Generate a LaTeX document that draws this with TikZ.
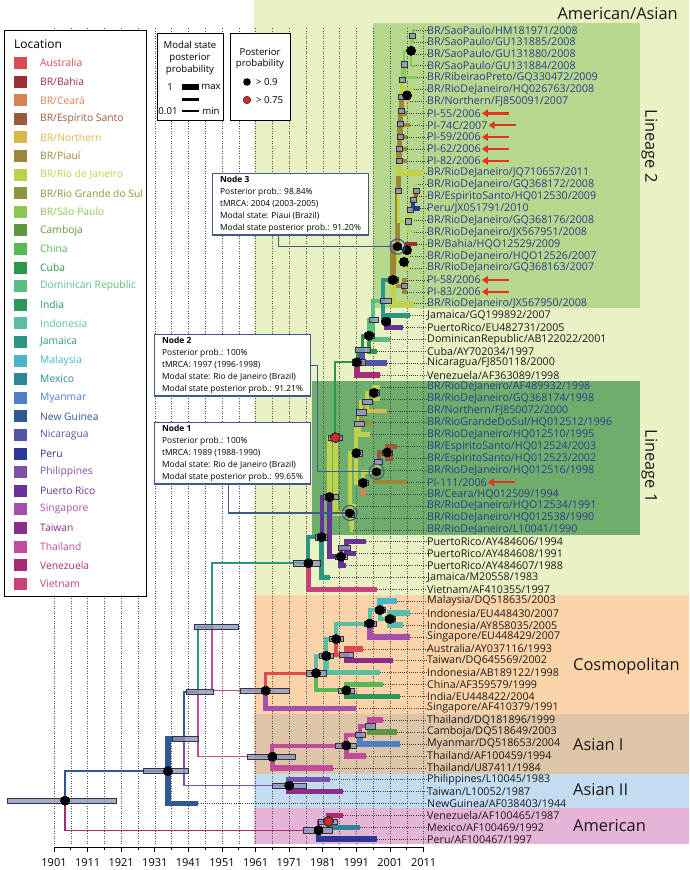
\documentclass[tikz,border=0pt]{standalone}
\usepackage{fontspec}
\setmainfont{Open Sans}
\usetikzlibrary{arrows.meta}
\definecolor{cAus}{HTML}{DC4B50}
\definecolor{cBah}{HTML}{963237}
\definecolor{cCea}{HTML}{D78255}
\definecolor{cEsp}{HTML}{9B5A3C}
\definecolor{cNor}{HTML}{D7B94B}
\definecolor{cPia}{HTML}{9B8737}
\definecolor{cRio}{HTML}{BED24B}
\definecolor{cRgs}{HTML}{8C963C}
\definecolor{cSao}{HTML}{8CC855}
\definecolor{cCam}{HTML}{5F9641}
\definecolor{cChi}{HTML}{55B955}
\definecolor{cCub}{HTML}{2D964B}
\definecolor{cDom}{HTML}{5ABE82}
\definecolor{cInd}{HTML}{2D965A}
\definecolor{cIdn}{HTML}{5ABEA5}
\definecolor{cJam}{HTML}{2D9682}
\definecolor{cMal}{HTML}{4BB4C8}
\definecolor{cMex}{HTML}{2D8796}
\definecolor{cMya}{HTML}{507DC8}
\definecolor{cNgu}{HTML}{2D5A96}
\definecolor{cNic}{HTML}{5555A5}
\definecolor{cPer}{HTML}{2D3796}
\definecolor{cPhi}{HTML}{7D50AA}
\definecolor{cPue}{HTML}{693296}
\definecolor{cSin}{HTML}{A550AA}
\definecolor{cTai}{HTML}{8C2D8C}
\definecolor{cTha}{HTML}{C34B9B}
\definecolor{cVen}{HTML}{A52D78}
\definecolor{cVie}{HTML}{C8417D}
\definecolor{bgAmAs}{HTML}{E9F1C5}
\definecolor{bgLinB}{HTML}{B5D78E}
\definecolor{bgLinA}{HTML}{6FAD6C}
\definecolor{bgCos}{HTML}{FDD4AA}
\definecolor{bgAsA}{HTML}{DEC5A8}
\definecolor{bgAsB}{HTML}{C4DCF1}
\definecolor{bgAmer}{HTML}{E5B4D6}
\definecolor{lblue}{HTML}{2B3B8E}
\definecolor{lblack}{HTML}{1A1A1A}
\definecolor{hpdc}{HTML}{8E96C4}
\definecolor{boxc}{HTML}{3D5A8A}
\definecolor{arrowc}{HTML}{E8321E}
\definecolor{redn}{HTML}{D42A2A}
\newcommand\brn[4]{\draw[line width=#4pt, draw=#3, line join=miter] (#1) |- (#2);}
\newcommand\hpdbar[3]{\draw[hpd] ([xshift=-#2pt, yshift=-2.6pt]#1) rectangle ([xshift=#3pt, yshift=2.6pt]#1);}
\newcommand\bnode[1]{\fill[black] (#1) circle (4.5pt);}
\newcommand\rnode[1]{\filldraw[fill=redn, draw=black!80, line width=0.6pt] (#1) circle (4.5pt);}
\newcommand\ringnode[1]{\draw[draw=boxc, line width=1.1pt] (#1) circle (7.5pt); \fill[black] (#1) circle (4.5pt);}
\tikzset{
 lab/.style={inner sep=0pt, font=\fontsize{10.7}{12}\selectfont},
 lead/.style={draw=black!75, line width=0.6pt, dash pattern=on 0.7pt off 1.5pt},
 grid/.style={draw=black!70, line width=0.6pt, dash pattern=on 0.7pt off 1.8pt},
 hpd/.style={draw=black!80, line width=0.5pt, fill=hpdc, fill opacity=0.8},
 infobox/.style={draw=boxc, line width=1.1pt, fill=white, inner xsep=3.5pt, inner ysep=2.5pt, anchor=north west, minimum width=156pt, align=left, font=\fontsize{8.4}{12}\selectfont},
 conn/.style={draw=boxc, line width=1.1pt},
 parrow/.style={draw=arrowc, line width=2.4pt, -{Triangle[length=6pt,width=7.5pt]}},
 leg/.style={anchor=west, inner sep=0pt, font=\fontsize{10.3}{12}\selectfont},
 region/.style={inner sep=0pt, font=\fontsize{16.4}{18}\selectfont, text=black!90},
 small/.style={inner sep=0pt, font=\fontsize{9.6}{11}\selectfont},
}
\begin{document}
\begin{tikzpicture}[x=1pt,y=-1pt,
  declare function={X(\a)=54+(\a-1901)*3.36; R(\i)=30+(\i-1)*11.9;}]
\useasboundingbox (0,0) rectangle (689,870);
\fill[white] (0,0) rectangle (689,870);
% background bands
\fill[bgAmAs] (254,0) rectangle (689,595);
\fill[bgLinB] (373,23) rectangle (640,308);
\fill[bgLinA] (312,381) rectangle (640,535);
\fill[bgCos] (254,595) rectangle (689,714);
\fill[bgAsA] (254,714) rectangle (689,774);
\fill[bgAsB] (254,774) rectangle (689,808);
\fill[bgAmer] (254,808) rectangle (689,844);
% grid
\foreach \yy in {1901,1906,...,2011} \draw[grid] ({X(\yy)},28) -- ({X(\yy)},844);
% axis
\draw[line width=0.9pt] ({X(1901)},847) -- ({X(2011)},847);
\foreach \yy in {1901,1911,...,2011} {
  \draw[line width=0.9pt] ({X(\yy)},847) -- ({X(\yy)},852);
  \node[inner sep=0pt, font=\fontsize{11}{12}\selectfont] at ({X(\yy)},863) {\yy};
}
\foreach \yy in {1906,1916,...,2006} \draw[line width=0.9pt] ({X(\yy)},847) -- ({X(\yy)},850);
% region labels
\node[region,anchor=east] (rAA) at (678,14) {American/Asian};
\node[region,rotate=-90] (rL2) at (649.5,146) {Lineage 2};
\node[region,rotate=-90] (rL1) at (649.5,466) {Lineage 1};
\node[region,anchor=west] (rCo) at (573,666) {Cosmopolitan};
\node[region,anchor=west] (rA1) at (573,745) {Asian I};
\node[region,anchor=west] (rA2) at (573,790) {Asian II};
\node[region,anchor=west] (rAm) at (573,826) {American};
% tips, labels and leaders
\foreach \i/\yr/\txt/\tc in {
1/2008/{BR/SaoPaulo/HM181971/2008}/lblue,
2/2008/{BR/SaoPaulo/GU131885/2008}/lblue,
3/2008/{BR/SaoPaulo/GU131880/2008}/lblue,
4/2008/{BR/SaoPaulo/GU131884/2008}/lblue,
5/2009/{BR/RibeiraoPreto/GQ330472/2009}/lblue,
6/2008/{BR/RioDeJaneiro/HQ026763/2008}/lblue,
7/2007/{BR/Northern/FJ850091/2007}/lblue,
8/2006/{PI-55/2006}/lblue,
9/2007/{PI-74C/2007}/lblue,
10/2006/{PI-59/2006}/lblue,
11/2006/{PI-62/2006}/lblue,
12/2006/{PI-82/2006}/lblue,
13/2011/{BR/RioDeJaneiro/JQ710657/2011}/lblue,
14/2008/{BR/RioDeJaneiro/GQ368172/2008}/lblue,
15/2009/{BR/EspiritoSanto/HQ012530/2009}/lblue,
16/2010/{Peru/JX051791/2010}/lblue,
17/2008/{BR/RioDeJaneiro/GQ368176/2008}/lblue,
18/2008/{BR/RioDeJaneiro/JX567951/2008}/lblue,
19/2009/{BR/Bahia/HQO12529/2009}/lblue,
20/2007/{BR/RioDeJaneiro/HQO12526/2007}/lblue,
21/2007/{BR/RioDeJaneiro/GQ368163/2007}/lblue,
22/2006/{PI-58/2006}/lblue,
23/2006/{PI-83/2006}/lblue,
24/2008/{BR/RioDeJaneiro/JX567950/2008}/lblue,
25/2007/{Jamaica/GQ199892/2007}/lblack,
26/2005/{PuertoRico/EU482731/2005}/lblack,
27/2001/{DominicanRepublic/AB122022/2001}/lblack,
28/1997/{Cuba/AY702034/1997}/lblack,
29/2000/{Nicaragua/FJ850118/2000}/lblack,
30/1998/{Venezuela/AF363089/1998}/lblack,
31/1998/{BR/RioDeJaneiro/AF489932/1998}/lblue,
32/1998/{BR/RioDeJaneiro/GQ368174/1998}/lblue,
33/2000/{BR/Northern/FJ850072/2000}/lblue,
34/1996/{BR/RioGrandeDoSul/HQ012512/1996}/lblue,
35/1995/{BR/RioDeJaneiro/HQ012510/1995}/lblue,
36/2003/{BR/EspiritoSanto/HQ012524/2003}/lblue,
37/2002/{BR/EspiritoSanto/HQ012523/2002}/lblue,
38/1998/{BR/RioDeJaneiro/HQ012516/1998}/lblue,
39/2006/{PI-111/2006}/lblue,
40/1994/{BR/Ceara/HQ012509/1994}/lblue,
41/1991/{BR/RioDeJaneiro/HQO12534/1991}/lblue,
42/1990/{BR/RioDeJaneiro/HQ012538/1990}/lblue,
43/1990/{BR/RioDeJaneiro/L10041/1990}/lblue,
44/1994/{PuertoRico/AY484606/1994}/lblack,
45/1991/{PuertoRico/AY484608/1991}/lblack,
46/1988/{PuertoRico/AY484607/1988}/lblack,
47/1983/{Jamaica/M20558/1983}/lblack,
48/1997/{Vietnam/AF410355/1997}/lblack,
49/2003/{Malaysia/DQ518635/2003}/lblack,
50/2007/{Indonesia/EU448430/2007}/lblack,
51/2005/{Indonesia/AY858035/2005}/lblack,
52/2007/{Singapore/EU448429/2007}/lblack,
53/1993/{Australia/AY037116/1993}/lblack,
54/2002/{Taiwan/DQ645569/2002}/lblack,
55/1998/{Indonesia/AB189122/1998}/lblack,
56/1999/{China/AF359579/1999}/lblack,
57/2004/{India/EU448422/2004}/lblack,
58/1991/{Singapore/AF410379/1991}/lblack,
59/1999/{Thailand/DQ181896/1999}/lblack,
60/2003/{Camboja/DQ518649/2003}/lblack,
61/2004/{Myanmar/DQ518653/2004}/lblack,
62/1994/{Thailand/AF100459/1994}/lblack,
63/1984/{Thailand/U87411/1984}/lblack,
64/1983/{Philippines/L10045/1983}/lblack,
65/1987/{Taiwan/L10052/1987}/lblack,
66/1944/{NewGuinea/AF038403/1944}/lblack,
67/1987/{Venezuela/AF100465/1987}/lblack,
68/1992/{Mexico/AF100469/1992}/lblack,
69/1997/{Peru/AF100467/1997}/lblack}{
  \coordinate (t\i) at ({X(\yr)},{R(\i)});
  \node[lab,text=\tc,anchor=west] (l\i) at (427,{R(\i)}) {\txt};
  \draw[lead] (t\i) -- (l\i.west);
}
% red arrows
\foreach \i in {8,9,10,11,12,22,23,39}
  \draw[parrow] ([xshift=28pt]l\i.east) -- ([xshift=1pt]l\i.east);
% internal nodes
\coordinate (root) at ({X(1904.3)},800.7);
\coordinate (A1) at (168,771.1);
\coordinate (B1) at (184,738.7);
\coordinate (C1) at (198,691.8);
\coordinate (D1) at (212,626.9);
\coordinate (AM) at (318.5,830.3);
\coordinate (AM2) at (328.5,821.4);
\coordinate (AII) at (289.2,785.6);
\coordinate (AI) at (272.4,756.7);
\coordinate (AI1) at (346.3,745.5);
\coordinate (AI2) at (359.8,735.1);
\coordinate (AI3) at (369.8,726.2);
\coordinate (CO) at (265.7,690.7);
\coordinate (CO1) at (316.1,673.2);
\coordinate (CO2) at (326.2,655.9);
\coordinate (CO3) at (346.3,690.45);
\coordinate (CO4) at (336.2,639.1);
\coordinate (CO5) at (369.8,623.5);
\coordinate (CO6) at (346.3,654.75);
\coordinate (CO7) at (379.9,610.1);
\coordinate (CO8) at (390,619.05);
\coordinate (AA) at (308.4,563.3);
\coordinate (NJ) at (321.5,537.25);
\coordinate (NX) at (329.5,497.1);
\coordinate (PRc) at (341,556.6);
\coordinate (PRa) at (346.3,547.65);
\coordinate (RN) at (335.3,437.65);
\coordinate (NC) at (357,362.3);
\coordinate (ND) at (362,349.45);
\coordinate (NE) at (369,335.7);
\coordinate (NF) at (373,320.1);
\coordinate (H) at (383,300.8);
\coordinate (JP) at (386,321.55);
\coordinate (L2) at (393,280);
\coordinate (L2b) at (404,285.85);
\coordinate (N3) at (397.5,246.6);
\coordinate (N20) at (404,262);
\coordinate (N19) at (407,250.15);
\coordinate (Nup) at (398.5,191);
\coordinate (S4) at (408,221.15);
\coordinate (S3) at (410,210);
\coordinate (S2) at (413,199.6);
\coordinate (S1) at (416,190.65);
\coordinate (P13) at (399,160.75);
\coordinate (P12) at (399.5,148.7);
\coordinate (P11) at (400,136.5);
\coordinate (P10) at (400.5,124);
\coordinate (P9) at (401,110.9);
\coordinate (P8) at (401.5,96.55);
\coordinate (P7) at (402,79.8);
\coordinate (N67) at (407,95.45);
\coordinate (P5) at (404,64.2);
\coordinate (SPc) at (411,50.8);
\coordinate (SPa) at (412.5,35.95);
\coordinate (N1) at (349.7,513);
\coordinate (L1d) at (351.2,514.9);
\coordinate (L1e) at (352.2,523.85);
\coordinate (L1a) at (356.4,453.2);
\coordinate (L1f) at (359,423.45);
\coordinate (L1h) at (361,412.3);
\coordinate (L1j) at (367,401.9);
\coordinate (L1k) at (374,392.95);
\coordinate (L1g) at (363.1,482.95);
\coordinate (N2) at (376.6,471.8);
\coordinate (Na) at (378.6,461.4);
\coordinate (ES) at (387.3,452.45);
% branches: backbone
\brn{root}{A1}{cNgu}{1.5}
\brn{root}{AM}{cVen}{1.5}
\brn{A1}{B1}{cNgu}{5.5}
\brn{A1}{t66}{cNgu}{5.5}
\brn{B1}{AII}{cPhi}{1.5}
\brn{B1}{C1}{cNgu}{1.5}
\brn{C1}{AI}{cTha}{1.5}
\brn{C1}{D1}{cJam}{1.5}
\brn{D1}{AA}{cJam}{1.8}
\brn{D1}{CO}{cTha}{1.5}
% American
\brn{AM}{AM2}{cVen}{3.5}
\brn{AM}{t69}{cPer}{5.5}
\brn{AM2}{t67}{cVen}{5.5}
\brn{AM2}{t68}{cMex}{5.5}
% Asian II
\brn{AII}{t64}{cPhi}{5.5}
\brn{AII}{t65}{cTai}{5.5}
% Asian I
\brn{AI}{AI1}{cTha}{4}
\brn{AI}{t63}{cTha}{5.5}
\brn{AI1}{AI2}{cTha}{4}
\brn{AI1}{t62}{cTha}{5.5}
\brn{AI2}{AI3}{cTha}{4}
\brn{AI2}{t61}{cMya}{5.5}
\brn{AI3}{t59}{cTha}{5.5}
\brn{AI3}{t60}{cCam}{5.5}
% Cosmopolitan
\brn{CO}{CO1}{cAus}{3}
\brn{CO}{t58}{cSin}{5.5}
\brn{CO1}{CO2}{cIdn}{3.5}
\brn{CO1}{CO3}{cChi}{4}
\brn{CO3}{t56}{cChi}{5.5}
\brn{CO3}{t57}{cInd}{5.5}
\brn{CO2}{CO4}{cIdn}{4}
\brn{CO2}{t55}{cIdn}{5.5}
\brn{CO4}{CO5}{cIdn}{4}
\brn{CO4}{CO6}{cAus}{4}
\brn{CO6}{t53}{cAus}{5.5}
\brn{CO6}{t54}{cTai}{5.5}
\brn{CO5}{CO7}{cIdn}{4}
\brn{CO5}{t52}{cSin}{5.5}
\brn{CO7}{t49}{cMal}{5.5}
\brn{CO7}{CO8}{cIdn}{4}
\brn{CO8}{t50}{cIdn}{5.5}
\brn{CO8}{t51}{cIdn}{5.5}
% American/Asian
\brn{AA}{NJ}{cJam}{4}
\brn{AA}{t48}{cVie}{5.5}
\brn{NJ}{NX}{cPue}{4}
\brn{NJ}{t47}{cJam}{5.5}
\brn{NX}{RN}{cRio}{4.5}
\brn{NX}{PRc}{cPue}{5}
\brn{PRc}{PRa}{cPue}{4}
\brn{PRc}{t46}{cPue}{5.5}
\brn{PRa}{t44}{cPue}{5.5}
\brn{PRa}{t45}{cPue}{5.5}
% Caribbean
\brn{RN}{NC}{cCub}{1.8}
\brn{NC}{ND}{cCub}{3}
\brn{NC}{t30}{cVen}{5.5}
\brn{ND}{NE}{cCub}{3}
\brn{ND}{t29}{cNic}{5.5}
\brn{NE}{NF}{cDom}{4}
\brn{NE}{t28}{cCub}{4.5}
\brn{NF}{H}{cDom}{4}
\brn{NF}{t27}{cDom}{4.5}
\brn{H}{L2}{cJam}{4}
\brn{H}{JP}{cJam}{4}
\brn{JP}{t25}{cJam}{4.5}
\brn{JP}{t26}{cPue}{4.5}
% Lineage 2
\brn{L2}{N3}{cPia}{5.5}
\brn{L2}{L2b}{cPia}{4}
\brn{L2}{t24}{cRio}{6}
\brn{L2b}{t22}{cPia}{4}
\brn{L2b}{t23}{cPia}{4}
\brn{N3}{Nup}{cPia}{5.5}
\brn{N3}{N20}{cRio}{3}
\brn{N20}{N19}{cRio}{2}
\brn{N20}{t21}{cRio}{3}
\brn{N19}{t19}{cBah}{4.5}
\brn{N19}{t20}{cRio}{3}
\brn{Nup}{P13}{cPia}{5.5}
\brn{Nup}{S4}{cRio}{3}
\brn{S4}{S3}{cRio}{2}
\brn{S4}{t18}{cRio}{2}
\brn{S3}{S2}{cRio}{2}
\brn{S3}{t17}{cRio}{2}
\brn{S2}{S1}{cRio}{2}
\brn{S2}{t16}{cPer}{4.5}
\brn{S1}{t14}{cRio}{2}
\brn{S1}{t15}{cEsp}{4.5}
\brn{P13}{P12}{cPia}{5.5}
\brn{P13}{t13}{cRio}{6}
\brn{P12}{P11}{cPia}{5.5}
\brn{P12}{t12}{cPia}{4.5}
\brn{P11}{P10}{cPia}{5.5}
\brn{P11}{t11}{cPia}{4.5}
\brn{P10}{P9}{cPia}{5.5}
\brn{P10}{t10}{cPia}{4.5}
\brn{P9}{P8}{cPia}{5}
\brn{P9}{t9}{cPia}{4.5}
\brn{P8}{P7}{cRio}{4}
\brn{P8}{t8}{cPia}{4.5}
\brn{P7}{P5}{cSao}{2.5}
\brn{P7}{N67}{cRio}{3}
\brn{N67}{t6}{cRio}{3}
\brn{N67}{t7}{cNor}{3}
\brn{P5}{SPc}{cSao}{2.5}
\brn{P5}{t5}{cSao}{3}
\brn{SPc}{SPa}{cSao}{2}
\brn{SPc}{t3}{cSao}{2}
\brn{SPc}{t4}{cSao}{2}
\brn{SPa}{t1}{cSao}{2}
\brn{SPa}{t2}{cSao}{2}
% Lineage 1
\brn{RN}{N1}{cRio}{5}
\brn{N1}{L1a}{cRio}{4}
\brn{N1}{L1d}{cRio}{4}
\brn{L1d}{t41}{cRio}{4.5}
\brn{L1d}{L1e}{cRio}{4}
\brn{L1e}{t42}{cRio}{4.5}
\brn{L1e}{t43}{cRio}{4.5}
\brn{L1a}{L1f}{cRio}{4}
\brn{L1a}{L1g}{cRio}{4}
\brn{L1f}{L1h}{cRio}{4}
\brn{L1f}{t35}{cRio}{4.5}
\brn{L1h}{L1j}{cRio}{4}
\brn{L1h}{t34}{cRgs}{4.5}
\brn{L1j}{L1k}{cRio}{4}
\brn{L1j}{t33}{cNor}{4.5}
\brn{L1k}{t31}{cRio}{4.5}
\brn{L1k}{t32}{cRio}{4.5}
\brn{L1g}{N2}{cRio}{4}
\brn{L1g}{t40}{cCea}{4.5}
\brn{N2}{Na}{cRio}{4}
\brn{N2}{t39}{cPia}{4.5}
\brn{Na}{ES}{cEsp}{4}
\brn{Na}{t38}{cRio}{4.5}
\brn{ES}{t36}{cEsp}{5}
\brn{ES}{t37}{cEsp}{5}
% HPD bars
\hpdbar{root}{58}{51}
\hpdbar{A1}{25}{20}
\hpdbar{B1}{12}{14}
\hpdbar{C1}{12}{15}
\hpdbar{D1}{18}{26}
\hpdbar{AM}{15.5}{13.5}
\hpdbar{AM2}{10.5}{8.5}
\hpdbar{AII}{17}{17}
\hpdbar{AI}{25}{22.6}
\hpdbar{AI1}{11}{10}
\hpdbar{AI2}{5}{5}
\hpdbar{AI3}{5}{5}
\hpdbar{CO}{25}{24}
\hpdbar{CO1}{10}{10}
\hpdbar{CO2}{7}{7}
\hpdbar{CO3}{8}{8}
\hpdbar{CO4}{7}{7}
\hpdbar{CO5}{6}{6}
\hpdbar{CO6}{7}{7}
\hpdbar{CO7}{5}{5}
\hpdbar{CO8}{5}{5}
\hpdbar{AA}{15}{12}
\hpdbar{NJ}{6.5}{5.5}
\hpdbar{NX}{6.5}{8.5}
\hpdbar{RN}{7.3}{6.7}
\hpdbar{PRa}{8}{4}
\hpdbar{PRc}{6}{6}
\hpdbar{NC}{5}{8}
\hpdbar{ND}{7}{8}
\hpdbar{NE}{5}{5}
\hpdbar{NF}{4}{5}
\hpdbar{H}{3}{8}
\hpdbar{JP}{4}{4}
\hpdbar{L2}{5}{5}
\foreach \n in {N20,N19,Nup,S4,S3,S2,S1,P13,P12,P11,P10,P9,P8,P7,P5,SPa,L2b}
  \hpdbar{\n}{3}{3}
\hpdbar{N3}{4}{4}
\hpdbar{N1}{4}{4}
\hpdbar{L1a}{4}{6}
\hpdbar{L1k}{5}{5}
\hpdbar{L1j}{5}{5}
\hpdbar{L1h}{5}{5}
\hpdbar{L1f}{5}{5}
\hpdbar{L1g}{5}{5}
\hpdbar{N2}{4}{4}
\hpdbar{Na}{4}{4}
\hpdbar{ES}{5}{5}
\hpdbar{L1d}{3}{3}
% posterior circles
\foreach \n in {root,A1,AM,AII,AI,AI1,CO,CO1,CO2,CO4,CO5,CO7,CO8,CO3,AA,NJ,NX,PRc,NC,NE,JP,L2,N19,N20,N67,SPc,L1a,L1k,ES,L1g}
  \bnode{\n}
\rnode{AM2}
\rnode{RN}
% info boxes
\node[infobox] (box3) at (212,173) {\textbf{Node 3}\\Posterior prob.: 98.84\%\\tMRCA: 2004 (2003-2005)\\Modal state: Piaui (Brazil)\\Modal state posterior prob.: 91.20\%};
\node[infobox] (box2) at (154,334) {\textbf{Node 2}\\Posterior prob.: 100\%\\tMRCA: 1997 (1996-1998)\\Modal state: Rio de Janeiro (Brazil)\\Modal state posterior prob.: 91.21\%};
\node[infobox] (box1) at (154,422) {\textbf{Node 1}\\Posterior prob.: 100\%\\tMRCA: 1989 (1988-1990)\\Modal state: Rio de Janeiro (Brazil)\\Modal state posterior prob.: 99.65\%};
\draw[conn] ([xshift=-12pt]box3.south) |- (N3);
\draw[conn] (box2.east) -- ++(6.5,0) |- (N2);
\draw[conn] ([xshift=-4pt]box1.south) |- (N1);
\ringnode{N3}
\ringnode{N2}
\ringnode{N1}
% location legend
\draw[fill=white, line width=0.8pt] (4,30) rectangle (146,596);
\node[anchor=west, inner sep=0pt, font=\fontsize{12}{14}\selectfont] (legt) at (14,44) {Location};
\foreach \i/\c/\t in {0/cAus/Australia,1/cBah/{BR/Bahia},2/cCea/{BR/Ceará},3/cEsp/{BR/Espírito Santo},4/cNor/{BR/Northern},5/cPia/{BR/Piauí},6/cRio/{BR/Rio de Janeiro},7/cRgs/{BR/Rio Grande do Sul},8/cSao/{BR/São Paulo},9/cCam/Camboja,10/cChi/China,11/cCub/Cuba,12/cDom/{Dominican Republic},13/cInd/India,14/cIdn/Indonesia,15/cJam/Jamaica,16/cMal/Malaysia,17/cMex/Mexico,18/cMya/Myanmar,19/cNgu/{New Guinea},20/cNic/Nicaragua,21/cPer/Peru,22/cPhi/Philippines,23/cPue/{Puerto Rico},24/cSin/Singapore,25/cTai/Taiwan,26/cTha/Thailand,27/cVen/Venezuela,28/cVie/Vietnam}{
  \fill[\c] (14,{63+\i*18.6-6}) rectangle (27,{63+\i*18.6+6});
  \node[leg,text=\c] (lg\i) at (40,{63+\i*18.6}) {\t};
}
% modal state legend
\draw[fill=white, line width=0.8pt] (157,33) rectangle (223,120);
\node[small] (ms1) at (190,45) {Modal state};
\node[small] (ms2) at (190,58) {posterior};
\node[small] (ms3) at (190,70) {probability};
\node[small] (ms4) at (170,87) {1};
\node[small] (ms5) at (211,87) {max};
\node[small] (ms6) at (168,111) {0.01};
\node[small] (ms7) at (211,111) {min};
\draw[line width=5.5pt] (182,87) -- (199,87);
\draw[line width=3pt] (182,99) -- (199,99);
\draw[line width=1.2pt] (182,111) -- (199,111);
% posterior legend
\draw[fill=white, line width=0.8pt] (230,33) rectangle (290,120);
\node[small] (pp1) at (260,52) {Posterior};
\node[small] (pp2) at (260,64) {probability};
\fill[black] (247,82) circle (3.8pt);
\filldraw[fill=redn, draw=black!80, line width=0.5pt] (247,100) circle (3.8pt);
\node[small,anchor=west] (pp3) at (256,82) {> 0.9};
\node[small,anchor=west] (pp4) at (256,100) {> 0.75};
\end{tikzpicture}
\end{document}
